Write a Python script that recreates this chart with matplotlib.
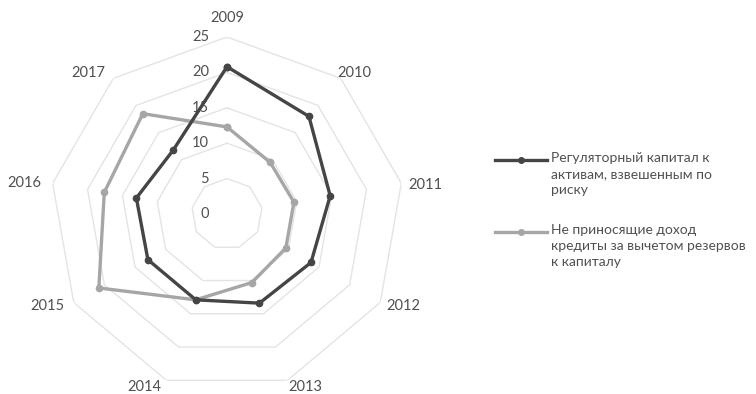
import numpy as np
import matplotlib
matplotlib.use("Agg")
import matplotlib.pyplot as plt
from matplotlib.lines import Line2D

years = ["2009", "2010", "2011", "2012", "2013", "2014", "2015", "2016", "2017"]
capital = [20.8, 18.0, 14.8, 13.7, 13.4, 12.9, 12.9, 13.0, 11.8]
npl = [12.3, 9.5, 9.6, 9.6, 10.3, 12.9, 20.9, 17.6, 18.5]
r_ticks = [0, 5, 10, 15, 20, 25]
series_names = [
    "Регуляторный капитал к\nактивам, взвешенным по\nриску",
    "Не приносящие доход\nкредиты за вычетом резервов\nк капиталу",
]

# where each year label sits relative to the outer vertex (pixels, y up)
label_offsets = [(0, 19), (14, 5), (24, -2), (23, -3), (18, -7),
                 (-22, -7), (-26, -3), (-28, 0), (-25, 5)]

plt.rcParams["font.family"] = ["Lato", "DejaVu Sans"]
text_col = "#505050"
grid_col = "#e4e4e4"

W, H = 756, 394
fig = plt.figure(figsize=(W / 100, H / 100), dpi=100)
cx, cy, R = 227, 214, 177
ax = fig.add_axes([(cx - R) / W, (H - cy - R) / H, 2 * R / W, 2 * R / H], projection="polar")
ax.set_theta_zero_location("N")
ax.set_theta_direction(-1)
ax.set_ylim(0, 25)
ax.grid(False)
ax.spines["polar"].set_visible(False)
ax.set_xticks([])
ax.set_yticks([])
ax.patch.set_alpha(0)

n = len(years)
theta = np.linspace(0, 2 * np.pi, n, endpoint=False)
theta_c = np.append(theta, theta[0])

# polygon grid
for v in r_ticks[1:]:
    ax.plot(theta_c, [v] * (n + 1), color=grid_col, lw=1, zorder=1)

ax.plot(theta_c, np.append(capital, capital[0]), color="#454545", lw=2.4,
        marker="o", ms=4.5, zorder=4)
ax.plot(theta_c, np.append(npl, npl[0]), color="#a6a6a6", lw=2.4,
        marker="o", ms=4.5, zorder=3)

for v in r_ticks:
    ax.annotate(str(v), xy=(0, v), xytext=(-18, 0), textcoords="offset pixels",
                ha="right", va="center", fontsize=10.5, color=text_col)

for t, lab, off in zip(theta, years, label_offsets):
    ax.annotate(lab, xy=(t, r_ticks[-1]), xytext=off, textcoords="offset pixels",
                ha="center", va="center", fontsize=10.5, color=text_col)

# legend
x0, x1, xt = 495, 547, 551
cols = ["#454545", "#a6a6a6"]
tops = [160, 232]
for name, c, y in zip(series_names, cols, tops):
    yf = 1 - y / H
    fig.add_artist(Line2D([x0 / W, x1 / W], [yf, yf], color=c, lw=2.4,
                          transform=fig.transFigure))
    fig.add_artist(Line2D([(x0 + x1) / 2 / W], [yf], color=c, marker="o", ms=4,
                          transform=fig.transFigure))
    fig.text(xt / W, yf + 8 / H, name, ha="left", va="top", fontsize=10,
             color=text_col, linespacing=1.4)

fig.savefig("out.png", dpi=100)
